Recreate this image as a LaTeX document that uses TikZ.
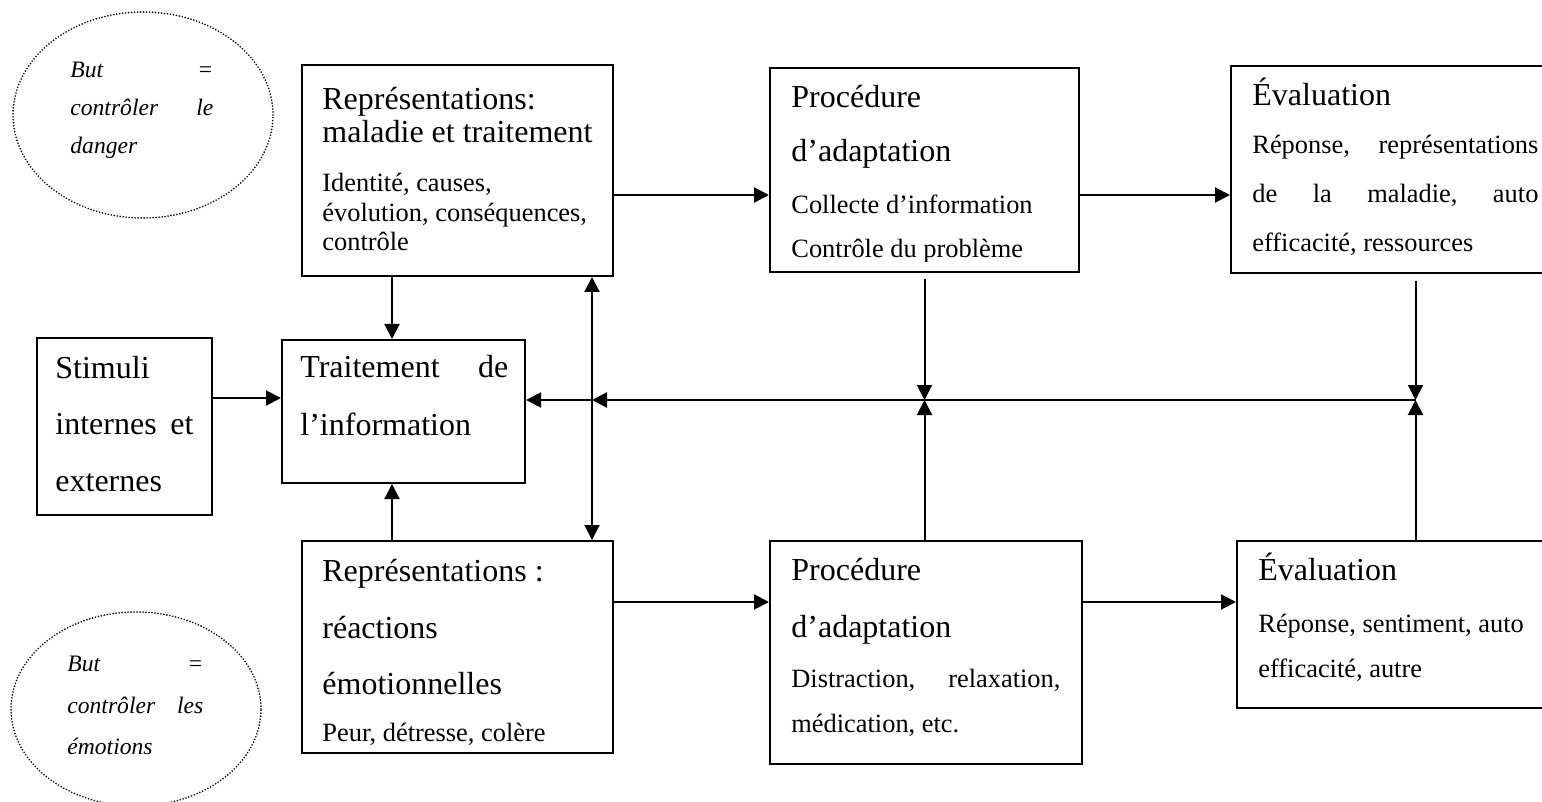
\documentclass[tikz,border=0pt]{standalone}
\usepackage{fontspec}
\setmainfont{Liberation Serif}
\usetikzlibrary{arrows.meta,shapes.geometric}
\newdimen\pxu \pxu=0.5pt
\newdimen\tw
\newcommand\fontbig{\fontsize{16pt}{18pt}\selectfont}
\newcommand\fontsmall{\fontsize{13.2pt}{15pt}\selectfont}
\newcommand\fontital{\fontsize{11.8pt}{14pt}\selectfont\itshape}
\newcommand\tfirst[1]{\setbox0=\hbox to\tw{#1\hfil}\dp0=0pt \box0 }
\newcommand\tline[2]{\setbox0=\hbox to\tw{#2\hfil}\ht0=#1\pxu \dp0=0pt \box0 }
\begin{document}
\begin{tikzpicture}[x=0.5pt,y=-0.5pt,
  box/.style={draw,line width=1pt,inner sep=0pt},
  txt/.style={anchor=base west,inner sep=0pt},
  goal/.style={draw,ellipse,line width=0.9pt,dash pattern=on 0pt off 1.5pt,line cap=round,inner sep=0pt},
  arr/.style={line width=1pt,-{Triangle[length=7.5pt,width=7.5pt]}},
  darr/.style={line width=1pt,{Triangle[length=7.5pt,width=7.5pt]}-{Triangle[length=7.5pt,width=7.5pt]}}]
\useasboundingbox (0,0) rectangle (1542,802);
\clip (0,0) rectangle (1542,802);
\fill[white] (0,0) rectangle (1542,802);

% goal ellipses
\node[goal,minimum width=130pt,minimum height=103pt] (goal1) at (143,115) {};
\node[goal,minimum width=125pt,minimum height=97pt] (goal2) at (136,709) {};

% boxes
\node[box,minimum width=87.5pt,minimum height=88.5pt] (stim) at (124.5,426.5) {};
\node[box,minimum width=121.5pt,minimum height=71.5pt] (trt) at (403.5,411.5) {};
\node[box,minimum width=155.5pt,minimum height=105.5pt] (rep1) at (457.5,170.5) {};
\node[box,minimum width=154.5pt,minimum height=102pt] (proc1) at (924.5,170) {};
\node[box,minimum width=184.5pt,minimum height=103.5pt] (eval1) at (1415.5,169.5) {};
\node[box,minimum width=155.5pt,minimum height=106pt] (rep2) at (457.5,647) {};
\node[box,minimum width=156pt,minimum height=111.5pt] (proc2) at (926,652.5) {};
\node[box,minimum width=181.5pt,minimum height=83.5pt] (eval2) at (1418.5,624.5) {};

% reference levels
\coordinate (yS) at (0,398);
\coordinate (yM) at (0,400);
\coordinate (yT) at (0,195);
\coordinate (yB) at (0,602);
\coordinate (xA) at (392,0);
\coordinate (xB) at (592,0);
\coordinate (jB) at (592,400);

% connectors
\draw[arr] (stim.east |- yS) -- (trt.west |- yS);
\draw[arr] (rep1.south -| xA) -- (trt.north -| xA);
\draw[arr] (rep2.north -| xA) -- (trt.south -| xA);
\draw[darr] (rep1.south -| xB) -- (rep2.north -| xB);
\draw[arr] (eval1.south |- yM) -- (jB);
\draw[arr] (jB) -- (trt.east |- yM);
\draw[arr] ([yshift=-3pt]proc1.south) -- (proc1.south |- yM);
\draw[arr] (proc2.north -| proc1.south) -- (proc1.south |- yM);
\draw[arr] ([yshift=-3.5pt]eval1.south) -- (eval1.south |- yM);
\draw[arr] (eval2.north -| eval1.south) -- (eval1.south |- yM);
\draw[arr] (rep1.east |- yT) -- (proc1.west |- yT);
\draw[arr] (proc1.east |- yT) -- (eval1.west |- yT);
\draw[arr] (rep2.east |- yB) -- (proc2.west |- yB);
\draw[arr] (proc2.east |- yB) -- (eval2.west |- yB);

% texts
\node[txt] (tgoal1) at (70,78) {\vtop{\tw=143\pxu\offinterlineskip
  \tfirst{\fontital But\hfill =}
  \tline{38}{\fontital contrôler\hfill le}
  \tline{38}{\fontital danger}}};
\node[txt] (tgoal2) at (67,671) {\vtop{\tw=136\pxu\offinterlineskip
  \tfirst{\fontital But\hfill =}
  \tline{42}{\fontital contrôler\hfill les}
  \tline{41}{\fontital émotions}}};

\node[txt] (tstim) at (55,379) {\vtop{\tw=138\pxu\offinterlineskip
  \tfirst{\fontbig Stimuli}
  \tline{56}{\fontbig internes\hfill et}
  \tline{56}{\fontbig externes}}};

\node[txt] (ttrt) at (300,378) {\vtop{\tw=208\pxu\offinterlineskip
  \tfirst{\fontbig Traitement\hfill de}
  \tline{57}{\fontbig l’information}}};

\node[txt] (trep1) at (322,110) {\vtop{\tw=285\pxu\offinterlineskip
  \tfirst{\fontbig Représentations:}
  \tline{33}{\fontbig maladie et traitement}
  \tline{49}{\fontsmall Identité, causes,}
  \tline{29.5}{\fontsmall évolution, conséquences,}
  \tline{29.5}{\fontsmall contrôle}}};

\begin{scope}
\clip (770,68) rectangle (1079,262);
\node[txt] (tproc1) at (791,108) {\vtop{\tw=280\pxu\offinterlineskip
  \tfirst{\fontbig Procédure}
  \tline{54}{\fontbig d’adaptation}
  \tline{52}{\fontsmall Collecte d’information}
  \tline{44}{\fontsmall Contrôle du problème}}};
\end{scope}

\node[txt] (teval1) at (1252,106) {\vtop{\tw=286\pxu\offinterlineskip
  \tfirst{\fontbig Évaluation}
  \tline{48}{\fontsmall Réponse,\hfill représentations}
  \tline{49}{\fontsmall de\hfill la\hfill maladie,\hfill auto}
  \tline{49}{\fontsmall efficacité, ressources}}};

\node[txt] (trep2) at (322,581) {\vtop{\tw=285\pxu\offinterlineskip
  \tfirst{\fontbig Représentations :}
  \tline{57}{\fontbig réactions}
  \tline{56}{\fontbig émotionnelles}
  \tline{47}{\fontsmall Peur, détresse, colère}}};

\node[txt] (tproc2) at (791,580) {\vtop{\tw=269\pxu\offinterlineskip
  \tfirst{\fontbig Procédure}
  \tline{57}{\fontbig d’adaptation}
  \tline{50}{\fontsmall Distraction,\hfill relaxation,}
  \tline{45}{\fontsmall médication, etc.}}};

\node[txt] (teval2) at (1258,580) {\vtop{\tw=270\pxu\offinterlineskip
  \tfirst{\fontbig Évaluation}
  \tline{52}{\fontsmall Réponse, sentiment, auto}
  \tline{45}{\fontsmall efficacité, autre}}};
\end{tikzpicture}
\end{document}
